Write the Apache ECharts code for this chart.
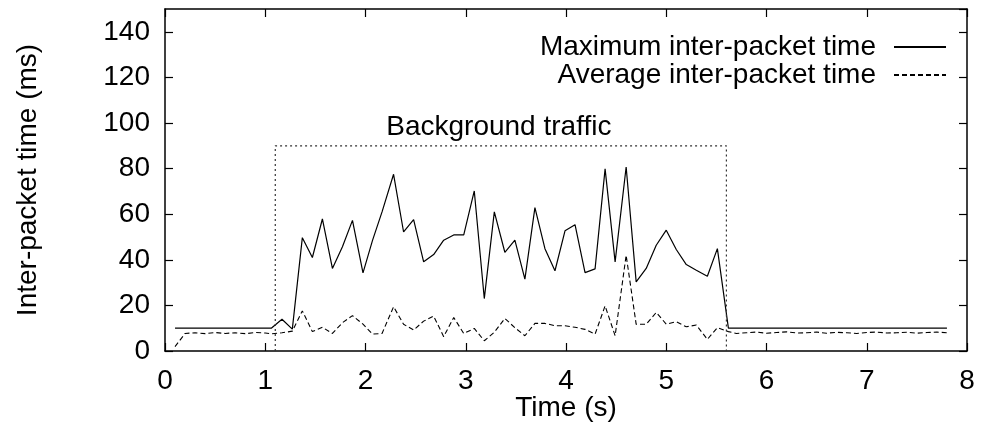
<!DOCTYPE html>
<html>
<head>
<meta charset="utf-8">
<script src="https://cdn.jsdelivr.net/npm/echarts@6/dist/echarts.min.js"></script>
<style>
  html, body { margin: 0; padding: 0; background: #fff; }
  #chart { width: 982px; height: 423px; }
</style>
</head>
<body>
<div id="chart"></div>
<script>
// Sample times (s)
const times = [
  0.1, 0.2, 0.3, 0.4, 0.5, 0.6, 0.7, 0.8, 0.9, 1.0, 1.06,
  1.167, 1.27, 1.37, 1.47, 1.57, 1.67, 1.77, 1.87, 1.975, 2.07,
  2.165, 2.28, 2.38, 2.48, 2.58, 2.68, 2.78, 2.88, 2.98, 3.085,
  3.185, 3.285, 3.39, 3.49, 3.59, 3.69, 3.79, 3.89, 3.99, 4.09,
  4.19, 4.29, 4.39, 4.49, 4.6, 4.7, 4.8, 4.9, 5.0, 5.1,
  5.2, 5.3, 5.41, 5.51, 5.62,
  5.7, 5.8, 5.9, 6.0, 6.1, 6.2, 6.3, 6.4, 6.5, 6.6, 6.7,
  6.8, 6.9, 7.0, 7.1, 7.2, 7.3, 7.4, 7.5, 7.6, 7.7, 7.8
];

// Maximum inter-packet time (ms)
const maxValues = [
  10, 10, 10, 10, 10, 10, 10, 10, 10, 10, 10,
  13.9, 9.6, 49.7, 41, 57.9, 36.2, 45.7, 57.3, 34.3, 48.5,
  61, 77.5, 52.2, 57.6, 39.1, 42.3, 48.6, 50.9, 50.9, 70.2,
  23, 61, 43.3, 48.6, 31.5, 62.9, 44.9, 35.2, 52.7, 55.4,
  34.4, 36, 79.9, 39.1, 80.7, 30.3, 36.2, 46.4, 53, 44.5,
  37.9, 35.4, 32.8, 44.9, 10,
  10, 10, 10, 10, 10, 10, 10, 10, 10, 10, 10,
  10, 10, 10, 10, 10, 10, 10, 10, 10, 10, 10
];

// Average inter-packet time (ms)
const avgValues = [
  1.9, 7.7, 8.0, 7.6, 8.1, 7.7, 8.0, 7.6, 8.1, 7.9, 7.5,
  8.0, 8.7, 17.6, 8.5, 10.4, 7.7, 12.4, 15.5, 11.8, 7.4,
  7.7, 19.4, 11.7, 9.2, 13.1, 15.3, 6.3, 14.7, 7.7, 9.9,
  4.5, 8.2, 14.3, 10.2, 6.7, 12.1, 12.1, 11.1, 11.1, 10.4,
  9.5, 7.4, 19.8, 6.7, 42, 11.7, 11.7, 16.9, 11.8, 12.8,
  10.6, 11.4, 5.1, 10.2, 8.5,
  7.7, 8.0, 8.3, 7.8, 8.1, 8.4, 7.9, 8.0, 8.3, 7.8, 8.2,
  8.0, 7.7, 8.1, 8.3, 7.9, 8.0, 8.2, 7.8, 8.1, 8.3, 8.0
];

// Background traffic window
const bgStart = 1.1;
const bgEnd = 5.6;
const bgLevel = 90;
const bgLabel = 'Background traffic';

const seriesNames = ['Maximum inter-packet time', 'Average inter-packet time'];
const xTicks = { min: 0, max: 8, interval: 1 };
const yTicks = { min: 0, max: 150, interval: 20 };

const FONT = '"Liberation Sans", Arial, Helvetica, sans-serif';
const FS = 28;

const pairs = (xs, ys) => xs.map((x, i) => [x, ys[i]]);
const boxPath = [[bgStart, 0], [bgStart, bgLevel], [bgEnd, bgLevel], [bgEnd, 0]];

const axisLine = { show: true, onZero: false, lineStyle: { color: '#000', width: 1.5 } };
const tickIn = { show: true, inside: true, length: 8, lineStyle: { color: '#000', width: 1.2 } };

const chart = echarts.init(document.getElementById('chart'), null, { renderer: 'canvas' });
chart.setOption({
  animation: false,
  backgroundColor: '#fff',
  textStyle: { fontFamily: FONT },
  grid: { left: 165, right: 15, top: 9, bottom: 72, containLabel: false, outerBoundsMode: 'none' },
  legend: {
    data: seriesNames,
    orient: 'vertical',
    align: 'right',
    right: 30,
    top: 28,
    itemWidth: 52,
    itemHeight: 14,
    itemGap: 0,
    itemStyle: { opacity: 0 },
    textStyle: { fontFamily: FONT, fontSize: FS, color: '#000', lineHeight: 27, padding: [0, 13, 0, 0] }
  },
  xAxis: [
    {
      type: 'value', min: xTicks.min, max: xTicks.max, interval: xTicks.interval,
      name: 'Time (s)', nameLocation: 'middle', nameGap: 43, nameMoveOverlap: false,
      nameTextStyle: { fontFamily: FONT, fontSize: FS, color: '#000' },
      axisLine, axisTick: tickIn,
      axisLabel: { fontFamily: FONT, fontSize: FS, color: '#000', margin: 16 },
      splitLine: { show: false }
    },
    {
      type: 'value', position: 'top', min: xTicks.min, max: xTicks.max, interval: xTicks.interval,
      axisLine, axisTick: tickIn, axisLabel: { show: false }, splitLine: { show: false }
    }
  ],
  yAxis: [
    {
      type: 'value', min: yTicks.min, max: yTicks.max, interval: yTicks.interval,
      name: 'Inter-packet time (ms)', nameLocation: 'middle', nameGap: 123, nameMoveOverlap: false,
      nameTextStyle: { fontFamily: FONT, fontSize: FS, color: '#000' },
      axisLine, axisTick: tickIn,
      axisLabel: { fontFamily: FONT, fontSize: FS, color: '#000', margin: 15, showMaxLabel: false },
      splitLine: { show: false }
    },
    {
      type: 'value', position: 'right', min: yTicks.min, max: yTicks.max, interval: yTicks.interval,
      axisLine, axisTick: tickIn, axisLabel: { show: false }, splitLine: { show: false }
    }
  ],
  series: [
    {
      name: seriesNames[0], type: 'line', data: pairs(times, maxValues),
      symbol: 'none', lineStyle: { color: '#000', width: 1.2 }, itemStyle: { color: '#000' }
    },
    {
      name: seriesNames[1], type: 'line', data: pairs(times, avgValues),
      symbol: 'none', lineStyle: { color: '#000', width: 1.1, type: [5, 3] }, itemStyle: { color: '#000' }
    },
    {
      name: 'bg-box', type: 'line', data: boxPath, symbol: 'none', silent: true,
      lineStyle: { color: '#333', width: 1.2, type: [2, 3] }
    },
    {
      name: 'bg-label', type: 'scatter', symbolSize: 0, silent: true,
      itemStyle: { opacity: 1 },
      data: [[(bgStart + bgEnd) / 2 - 0.02, 98]],
      label: {
        show: true, position: 'inside', formatter: bgLabel,
        fontFamily: FONT, fontSize: FS, color: '#000'
      }
    }
  ]
});
</script>
</body>
</html>
